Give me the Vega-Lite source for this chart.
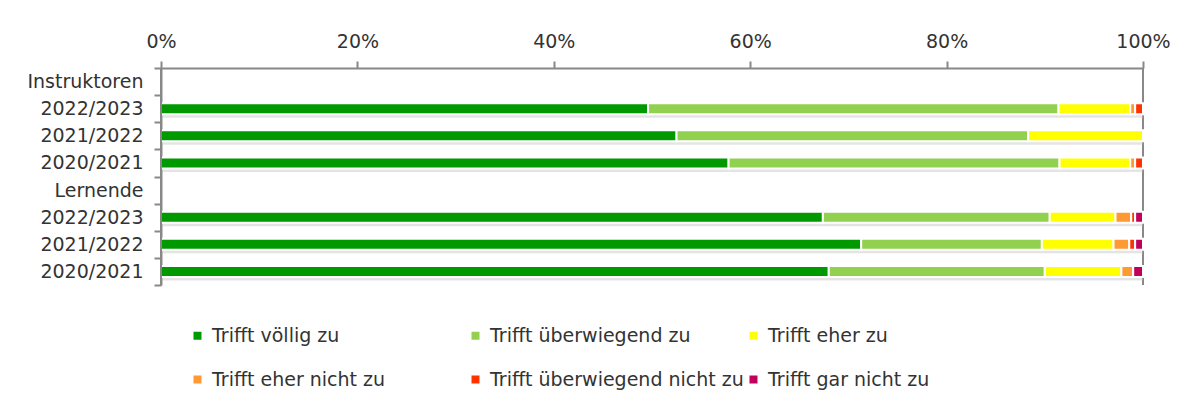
{
  "$schema": "https://vega.github.io/schema/vega-lite/v6.json",
  "width": 982,
  "height": 217,
  "autosize": {"type": "none"},
  "padding": {"left": 161, "top": 68, "right": 50, "bottom": 119},
  "config": {
    "font": "DejaVu Sans",
    "view": {"stroke": null},
    "axis": {
      "labelFontSize": 19,
      "labelColor": "#333333",
      "domain": true,
      "domainColor": "#888888",
      "domainWidth": 2,
      "tickColor": "#888888",
      "tickWidth": 2,
      "tickSize": 7,
      "grid": false,
      "title": null
    }
  },
  "data": {
    "values": [
      {"row": "a:2022/2023", "cat": "Trifft völlig zu", "k": 1, "v": 49.6},
      {"row": "a:2022/2023", "cat": "Trifft überwiegend zu", "k": 2, "v": 41.8},
      {"row": "a:2022/2023", "cat": "Trifft eher zu", "k": 3, "v": 7.3},
      {"row": "a:2022/2023", "cat": "Trifft eher nicht zu", "k": 4, "v": 0.5},
      {"row": "a:2022/2023", "cat": "Trifft überwiegend nicht zu", "k": 5, "v": 0.8},
      {"row": "a:2021/2022", "cat": "Trifft völlig zu", "k": 1, "v": 52.5},
      {"row": "a:2021/2022", "cat": "Trifft überwiegend zu", "k": 2, "v": 35.8},
      {"row": "a:2021/2022", "cat": "Trifft eher zu", "k": 3, "v": 11.7},
      {"row": "a:2020/2021", "cat": "Trifft völlig zu", "k": 1, "v": 57.8},
      {"row": "a:2020/2021", "cat": "Trifft überwiegend zu", "k": 2, "v": 33.7},
      {"row": "a:2020/2021", "cat": "Trifft eher zu", "k": 3, "v": 7.2},
      {"row": "a:2020/2021", "cat": "Trifft eher nicht zu", "k": 4, "v": 0.5},
      {"row": "a:2020/2021", "cat": "Trifft überwiegend nicht zu", "k": 5, "v": 0.8},
      {"row": "b:2022/2023", "cat": "Trifft völlig zu", "k": 1, "v": 67.4},
      {"row": "b:2022/2023", "cat": "Trifft überwiegend zu", "k": 2, "v": 23.1},
      {"row": "b:2022/2023", "cat": "Trifft eher zu", "k": 3, "v": 6.7},
      {"row": "b:2022/2023", "cat": "Trifft eher nicht zu", "k": 4, "v": 1.6},
      {"row": "b:2022/2023", "cat": "Trifft überwiegend nicht zu", "k": 5, "v": 0.4},
      {"row": "b:2022/2023", "cat": "Trifft gar nicht zu", "k": 6, "v": 0.8},
      {"row": "b:2021/2022", "cat": "Trifft völlig zu", "k": 1, "v": 71.3},
      {"row": "b:2021/2022", "cat": "Trifft überwiegend zu", "k": 2, "v": 18.4},
      {"row": "b:2021/2022", "cat": "Trifft eher zu", "k": 3, "v": 7.3},
      {"row": "b:2021/2022", "cat": "Trifft eher nicht zu", "k": 4, "v": 1.6},
      {"row": "b:2021/2022", "cat": "Trifft überwiegend nicht zu", "k": 5, "v": 0.6},
      {"row": "b:2021/2022", "cat": "Trifft gar nicht zu", "k": 6, "v": 0.8},
      {"row": "b:2020/2021", "cat": "Trifft völlig zu", "k": 1, "v": 68.0},
      {"row": "b:2020/2021", "cat": "Trifft überwiegend zu", "k": 2, "v": 22.0},
      {"row": "b:2020/2021", "cat": "Trifft eher zu", "k": 3, "v": 7.8},
      {"row": "b:2020/2021", "cat": "Trifft eher nicht zu", "k": 4, "v": 1.2},
      {"row": "b:2020/2021", "cat": "Trifft gar nicht zu", "k": 6, "v": 1.0}
    ]
  },
  "encoding": {
    "y": {
      "field": "row",
      "type": "nominal",
      "sort": null,
      "scale": {
        "domain": ["Instruktoren", "a:2022/2023", "a:2021/2022", "a:2020/2021", "Lernende", "b:2022/2023", "b:2021/2022", "b:2020/2021"],
        "paddingInner": 0,
        "paddingOuter": 0
      },
      "axis": {
        "orient": "left",
        "domain": true,
        "ticks": true,
        "tickBand": "extent",
        "labelPadding": 11,
        "labelExpr": "replace(datum.label, /^[ab]:/, '')"
      }
    }
  },
  "layer": [
    {
      "mark": {"type": "rule", "color": "#888888", "strokeWidth": 2},
      "encoding": {"x": {"datum": 100, "type": "quantitative"}, "y": null}
    },
    {
      "mark": {"type": "bar", "color": "#c4c4c4", "opacity": 0.45, "size": 6, "yOffset": 6},
      "encoding": {
        "x": {"field": "v", "type": "quantitative", "stack": "zero"},
        "order": {"field": "k"}
      }
    },
    {
      "mark": {"type": "bar", "size": 11, "stroke": "white", "strokeWidth": 2},
      "encoding": {
        "x": {
          "field": "v",
          "type": "quantitative",
          "stack": "zero",
          "scale": {"domain": [0, 100], "nice": false},
          "axis": {
            "orient": "top",
            "values": [0, 20, 40, 60, 80, 100],
            "labelExpr": "datum.value + '%'",
            "labelPadding": 10,
            "labelFlush": false
          }
        },
        "order": {"field": "k"},
        "color": {
          "field": "cat",
          "type": "nominal",
          "scale": {
            "domain": ["Trifft völlig zu", "Trifft überwiegend zu", "Trifft eher zu", "Trifft eher nicht zu", "Trifft überwiegend nicht zu", "Trifft gar nicht zu"],
            "range": ["#009a00", "#92d050", "#ffff00", "#ff9933", "#ff3300", "#c0005c"]
          },
          "legend": {
            "orient": "none",
            "direction": "horizontal",
            "legendX": 27,
            "legendY": 258,
            "columns": 3,
            "title": null,
            "symbolType": "square",
            "symbolSize": 64,
            "symbolStrokeWidth": 0,
            "labelFontSize": 19,
            "labelColor": "#333333",
            "labelOffset": 5,
            "labelLimit": 400,
            "gridAlign": "all",
            "columnPadding": 0,
            "rowPadding": 24,
            "padding": 0
          }
        }
      }
    },
    {
      "mark": {"type": "rule", "color": "#888888", "strokeWidth": 2},
      "encoding": {"x": {"datum": 0, "type": "quantitative"}, "y": null}
    }
  ]
}
